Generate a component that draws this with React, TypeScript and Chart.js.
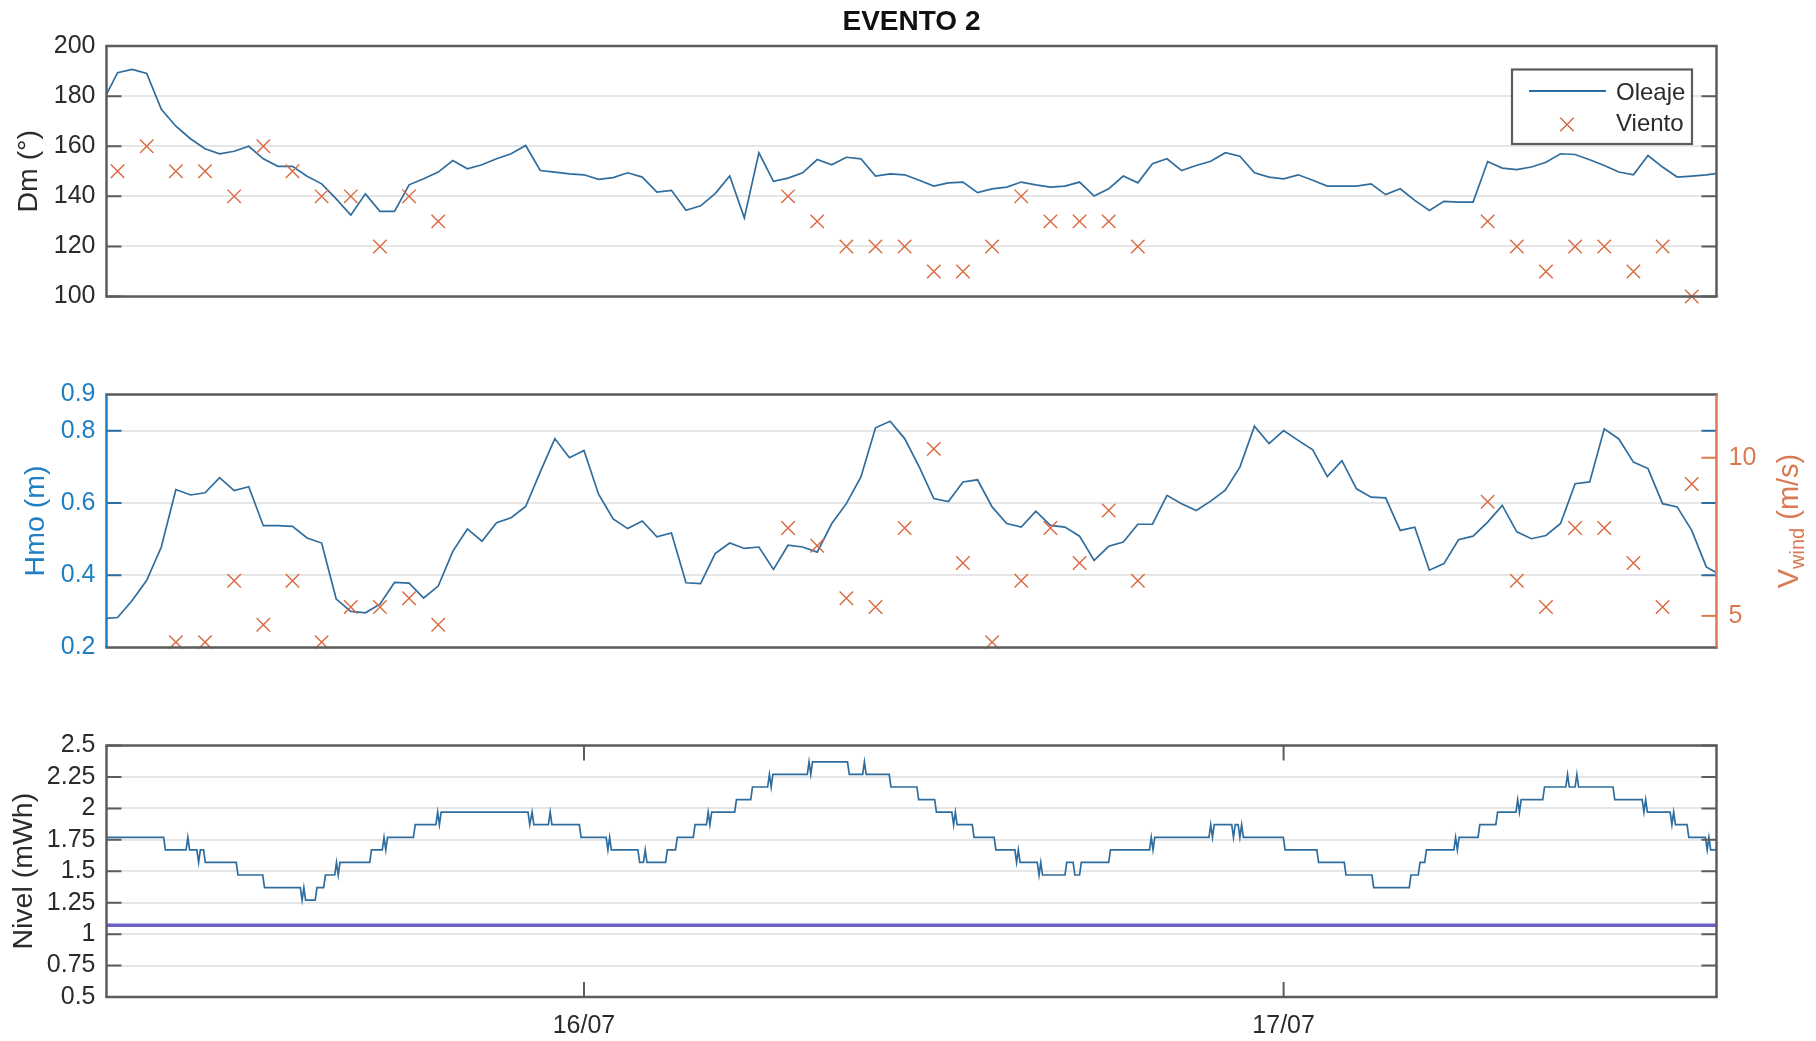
import React, { useEffect, useRef } from "react";
import { Chart, registerables } from "chart.js";

Chart.register(...registerables);

// ---------------- DATA (hours counted from 15/07 00:00) ----------------
const waveHours = [
  7.5, 8, 8.5, 9, 9.5, 10, 10.5, 11, 11.5, 12,
  12.5, 13, 13.5, 14, 14.5, 15, 15.5, 16, 16.5, 17,
  17.5, 18, 18.5, 19, 19.5, 20, 20.5, 21, 21.5, 22,
  22.5, 23, 23.5, 24, 24.5, 25, 25.5, 26, 26.5, 27,
  27.5, 28, 28.5, 29, 29.5, 30, 30.5, 31, 31.5, 32,
  32.5, 33, 33.5, 34, 34.5, 35, 35.5, 36, 36.5, 37,
  37.5, 38, 38.5, 39, 39.5, 40, 40.5, 41, 41.5, 42,
  42.5, 43, 43.5, 44, 44.5, 45, 45.5, 46, 46.5, 47,
  47.5, 48, 48.5, 49, 49.5, 50, 50.5, 51, 51.5, 52,
  52.5, 53, 53.5, 54, 54.5, 55, 55.5, 56, 56.5, 57,
  57.5, 58, 58.5, 59, 59.5, 60, 60.5, 61, 61.5, 62,
  62.5, 63,
];

const waveDm = [
  178, 189.4, 190.7, 189.1, 174.8, 168, 163, 159, 157, 158,
  160, 155, 152, 152, 148, 145, 139, 132.5, 141, 134,
  134, 144.6, 147, 149.7, 154.3, 151, 152.6, 155, 157, 160.3,
  150.3, 149.7, 149, 148.6, 146.8, 147.5, 149.4, 147.7, 141.7, 142.4,
  134.4, 136.2, 141.1, 148.1, 131.4, 157.4, 146, 147.3, 149.4, 154.7,
  152.6, 155.6, 155, 148.1, 149, 148.6, 146.4, 144.1, 145.4, 145.7,
  141.5, 143, 143.7, 145.7, 144.6, 143.7, 144.1, 145.7, 140.1, 143,
  148.1, 145.4, 153, 155, 150.3, 152.3, 154, 157.4, 156, 149.4,
  147.7, 147, 148.6, 146.4, 144.1, 144.1, 144.1, 145, 140.7, 143,
  138.4, 134.4, 138, 137.7, 137.7, 153.9, 151.3, 150.7, 151.7, 153.6,
  157, 156.7, 154.6, 152.3, 149.7, 148.6, 156.3, 151.7, 147.7, 148.1,
  148.6, 149.4,
];

const waveHmo = [
  0.28, 0.283, 0.33, 0.386, 0.478, 0.637, 0.622, 0.628, 0.67, 0.634,
  0.645, 0.537, 0.537, 0.535, 0.503, 0.489, 0.334, 0.3, 0.296, 0.32,
  0.38, 0.378, 0.337, 0.37, 0.466, 0.528, 0.494, 0.545, 0.559, 0.59,
  0.686, 0.778, 0.725, 0.745, 0.624, 0.556, 0.529, 0.55, 0.506, 0.517,
  0.379, 0.377, 0.46, 0.489, 0.474, 0.478, 0.416, 0.483, 0.478, 0.464,
  0.543, 0.598, 0.672, 0.808, 0.826, 0.778, 0.7, 0.612, 0.604, 0.658,
  0.664, 0.589, 0.543, 0.533, 0.577, 0.538, 0.533, 0.508, 0.441, 0.48,
  0.492, 0.541, 0.541, 0.621, 0.598, 0.579, 0.605, 0.635, 0.699, 0.812,
  0.764, 0.8, 0.773, 0.747, 0.673, 0.717, 0.639, 0.616, 0.614, 0.524,
  0.533, 0.414, 0.432, 0.498, 0.508, 0.547, 0.593, 0.52, 0.501, 0.51,
  0.543, 0.653, 0.658, 0.805, 0.777, 0.713, 0.695, 0.598, 0.589, 0.524,
  0.423, 0.4,
];

const windHours = [
  8, 9, 10, 11, 12, 13, 14, 15, 16, 17, 18, 19,
  31, 32, 33, 34, 35, 36, 37, 38, 39, 40, 41, 42, 43,
  55, 56, 57, 58, 59, 60, 61, 62,
];
const windDir = [
  150, 160, 150, 150, 140, 160, 150, 140, 140, 120, 140, 130,
  140, 130, 120, 120, 120, 110, 110, 120, 140, 130, 130, 130, 120,
  130, 120, 110, 120, 120, 110, 120, 100,
];
const windSpeed = [
  null, null, 4.17, 4.17, 6.11, 4.72, 6.11, 4.17, 5.28, 5.28, 5.56, 4.72,
  7.78, 7.22, 5.56, 5.28, 7.78, 10.28, 6.67, 4.17, 6.11, 7.78, 6.67, 8.33, 6.11,
  8.61, 6.11, 5.28, 7.78, 7.78, 6.67, 5.28, 9.17,
];

const nivelHours = [
  7.5, 9.58, 9.64, 10.35, 10.41, 10.47, 10.72, 10.78, 10.84, 10.95,
  11.01, 12.07, 12.13, 12.98, 13.04, 14.27, 14.33, 14.39, 14.45, 14.78,
  14.84, 15.07, 15.13, 15.45, 15.51, 15.57, 15.63, 16.65, 16.71, 17.08,
  17.14, 17.2, 17.26, 18.15, 18.21, 18.92, 18.98, 19.04, 19.1, 22.08,
  22.14, 22.22, 22.28, 22.78, 22.84, 22.9, 23.84, 23.9, 24.76, 24.82,
  24.88, 24.94, 25.85, 25.91, 26.04, 26.1, 26.16, 26.8, 26.86, 27.14,
  27.2, 27.75, 27.81, 28.2, 28.26, 28.32, 28.38, 29.17, 29.23, 29.72,
  29.78, 30.3, 30.36, 30.42, 30.48, 31.66, 31.72, 31.78, 31.84, 33.04,
  33.1, 33.56, 33.62, 33.68, 34.47, 34.53, 35.42, 35.48, 36.03, 36.09,
  36.62, 36.68, 36.74, 36.8, 37.32, 37.38, 38.07, 38.13, 38.78, 38.84,
  38.9, 38.96, 39.55, 39.61, 39.67, 39.73, 40.5, 40.56, 40.78, 40.84,
  41.0, 41.06, 42.0, 42.06, 43.4, 43.46, 43.52, 43.58, 45.44, 45.5,
  45.56, 45.62, 46.22, 46.28, 46.34, 46.44, 46.5, 46.56, 46.62, 47.99,
  48.05, 49.14, 49.2, 50.08, 50.14, 51.03, 51.09, 52.31, 52.37, 52.62,
  52.68, 52.84, 52.9, 53.84, 53.9, 53.96, 54.02, 54.67, 54.73, 55.28,
  55.34, 55.97, 56.03, 56.09, 56.15, 56.89, 56.95, 57.68, 57.74, 57.8,
  58.0, 58.06, 58.12, 59.3, 59.36, 60.3, 60.36, 60.42, 60.48, 61.26,
  61.32, 61.38, 61.44, 61.84, 61.9, 62.47, 62.53, 62.59, 62.65, 63.0,
];
const nivelLevels = [
  1.77, 1.77, 1.67, 1.67, 1.77, 1.67, 1.67, 1.57, 1.67, 1.67,
  1.57, 1.57, 1.47, 1.47, 1.37, 1.37, 1.27, 1.37, 1.27, 1.27,
  1.37, 1.37, 1.47, 1.47, 1.57, 1.47, 1.57, 1.57, 1.67, 1.67,
  1.77, 1.67, 1.77, 1.77, 1.87, 1.87, 1.97, 1.87, 1.97, 1.97,
  1.87, 1.97, 1.87, 1.87, 1.97, 1.87, 1.87, 1.77, 1.77, 1.67,
  1.77, 1.67, 1.67, 1.57, 1.57, 1.67, 1.57, 1.57, 1.67, 1.67,
  1.77, 1.77, 1.87, 1.87, 1.97, 1.87, 1.97, 1.97, 2.07, 2.07,
  2.17, 2.17, 2.27, 2.17, 2.27, 2.27, 2.37, 2.27, 2.37, 2.37,
  2.27, 2.27, 2.37, 2.27, 2.27, 2.17, 2.17, 2.07, 2.07, 1.97,
  1.97, 1.87, 1.97, 1.87, 1.87, 1.77, 1.77, 1.67, 1.67, 1.57,
  1.67, 1.57, 1.57, 1.47, 1.57, 1.47, 1.47, 1.57, 1.57, 1.47,
  1.47, 1.57, 1.57, 1.67, 1.67, 1.77, 1.67, 1.77, 1.77, 1.87,
  1.77, 1.87, 1.87, 1.77, 1.87, 1.87, 1.77, 1.87, 1.77, 1.77,
  1.67, 1.67, 1.57, 1.57, 1.47, 1.47, 1.37, 1.37, 1.47, 1.47,
  1.57, 1.57, 1.67, 1.67, 1.77, 1.67, 1.77, 1.77, 1.87, 1.87,
  1.97, 1.97, 2.07, 1.97, 2.07, 2.07, 2.17, 2.17, 2.27, 2.17,
  2.17, 2.27, 2.17, 2.17, 2.07, 2.07, 1.97, 2.07, 1.97, 1.97,
  1.87, 1.97, 1.87, 1.87, 1.77, 1.77, 1.67, 1.77, 1.67, 1.67,
];
const nivelUmbral = 1.07;

const dmTicks = [100, 120, 140, 160, 180, 200];
const dmTickLabels = ["100", "120", "140", "160", "180", "200"];
const hmoTicks = [0.2, 0.4, 0.6, 0.8, 0.9];
const hmoTickLabels = ["0.2", "0.4", "0.6", "0.8", "0.9"];
const vwindTicks = [5, 10];
const vwindTickLabels = ["5", "10"];
const nivelTicks = [0.5, 0.75, 1, 1.25, 1.5, 1.75, 2, 2.25, 2.5];
const nivelTickLabels = ["0.5", "0.75", "1", "1.25", "1.5", "1.75", "2", "2.25", "2.5"];
const dateTicks = [24, 48];
const dateLabels = ["16/07", "17/07"];

const titleText = "EVENTO 2";
const seriesNames = ["Oleaje", "Viento"];
const vwindTitle = ["V", "wind", " (m/s)"];

// ---------------- STYLE / LAYOUT ----------------
const X_MIN = 7.62;
const X_MAX = 62.85;
const W = 1816;
const PLOT_LEFT = 106.5;
const PLOT_RIGHT = 1716.5;
const FONT = '"Liberation Sans", Arial, Helvetica, sans-serif';
const TEXT = "#2b2b2b";
const AXIS = "#5c5c5c";
const GRID = "#e6e6e6";
const BLUE = "#1f7fc4";
const BLUE_TICK = "#2f6b9c";
const LINE = "#2f6d9e";
const MARK = "#d9683f";
const ORANGE = "#d97a52";
const PURPLE = "#6a5fc4";
const TICK_LEN = 15;

function fixedTicks(values: number[]) {
  return (scale: any) => {
    scale.ticks = values.map((v) => ({ value: v }));
  };
}

function yLeft(min: number, max: number, ticks: number[], labels: string[], title: string, color: string, titleColor: string, titlePad: number) {
  return {
    type: "linear",
    position: "left",
    min,
    max,
    afterBuildTicks: fixedTicks(ticks),
    afterFit: (s: any) => {
      s.width = PLOT_LEFT;
    },
    grid: { color: GRID, lineWidth: 2, drawTicks: false },
    border: { display: false },
    ticks: {
      autoSkip: false,
      padding: 11,
      color,
      font: { family: FONT, size: 25 },
      callback: (_v: any, i: number) => labels[i],
    },
    title: {
      display: true,
      text: title,
      color: titleColor,
      font: { family: FONT, size: 28.5 },
      padding: { top: titlePad, bottom: 0 },
    },
  };
}

function hiddenX() {
  return { type: "linear", min: X_MIN, max: X_MAX, display: false };
}

type TickSpec = { scale: string; values: number[]; sides: string[]; color: string };

function framePlugin(id: string, sides: { top: string; right: string; bottom: string; left: string }, ticks: TickSpec[]) {
  return {
    id,
    afterDatasetsDraw(chart: any) {
      const { ctx, chartArea: a } = chart;
      ctx.save();
      ctx.lineCap = "butt";
      for (const t of ticks) {
        const sc = chart.scales[t.scale];
        ctx.strokeStyle = t.color;
        ctx.lineWidth = 2;
        for (const v of t.values) {
          const p = sc.getPixelForValue(v);
          ctx.beginPath();
          if (sc.isHorizontal()) {
            if (t.sides.includes("bottom")) {
              ctx.moveTo(p, a.bottom);
              ctx.lineTo(p, a.bottom - TICK_LEN);
            }
            if (t.sides.includes("top")) {
              ctx.moveTo(p, a.top);
              ctx.lineTo(p, a.top + TICK_LEN);
            }
          } else {
            if (t.sides.includes("left")) {
              ctx.moveTo(a.left, p);
              ctx.lineTo(a.left + TICK_LEN, p);
            }
            if (t.sides.includes("right")) {
              ctx.moveTo(a.right, p);
              ctx.lineTo(a.right - TICK_LEN, p);
            }
          }
          ctx.stroke();
        }
      }
      const lw = 2.5;
      ctx.lineWidth = lw;
      const seg = (c: string, x1: number, y1: number, x2: number, y2: number) => {
        ctx.strokeStyle = c;
        ctx.beginPath();
        ctx.moveTo(x1, y1);
        ctx.lineTo(x2, y2);
        ctx.stroke();
      };
      seg(sides.top, a.left - lw / 2, a.top, a.right + lw / 2, a.top);
      seg(sides.bottom, a.left - lw / 2, a.bottom, a.right + lw / 2, a.bottom);
      seg(sides.left, a.left, a.top, a.left, a.bottom);
      seg(sides.right, a.right, a.top, a.right, a.bottom);
      ctx.restore();
    },
  };
}

const legendPlugin = {
  id: "boxLegend",
  afterDraw(chart: any) {
    const ctx = chart.ctx;
    const ds = chart.data.datasets;
    const bx = 1512, by = 69.5, bw = 180, bh = 74.5;
    ctx.save();
    ctx.fillStyle = "#ffffff";
    ctx.fillRect(bx, by, bw, bh);
    ctx.strokeStyle = AXIS;
    ctx.lineWidth = 2.2;
    ctx.strokeRect(bx, by, bw, bh);
    ctx.strokeStyle = ds[0].borderColor;
    ctx.lineWidth = 1.8;
    ctx.beginPath();
    ctx.moveTo(1529, 91);
    ctx.lineTo(1606, 91);
    ctx.stroke();
    ctx.strokeStyle = ds[1].borderColor;
    ctx.lineWidth = 1.4;
    const cx = 1567, cy = 124.5, r = 6.7;
    ctx.beginPath();
    ctx.moveTo(cx - r, cy - r);
    ctx.lineTo(cx + r, cy + r);
    ctx.moveTo(cx - r, cy + r);
    ctx.lineTo(cx + r, cy - r);
    ctx.stroke();
    ctx.fillStyle = TEXT;
    ctx.font = `24px ${FONT}`;
    ctx.textAlign = "left";
    ctx.textBaseline = "middle";
    ctx.fillText(ds[0].label, 1616, 93);
    ctx.fillText(ds[1].label, 1616, 124);
    ctx.restore();
  },
};

const rightTitlePlugin = {
  id: "rightTitle",
  afterDraw(chart: any) {
    const { ctx, chartArea: a } = chart;
    const big = `29px ${FONT}`;
    const small = `20px ${FONT}`;
    ctx.save();
    ctx.font = big;
    const w1 = ctx.measureText(vwindTitle[0]).width;
    const w3 = ctx.measureText(vwindTitle[2]).width;
    ctx.font = small;
    const w2 = ctx.measureText(vwindTitle[1]).width;
    const total = w1 + w2 + w3;
    ctx.translate(1788, (a.top + a.bottom) / 2);
    ctx.rotate(-Math.PI / 2);
    ctx.fillStyle = ORANGE;
    ctx.textAlign = "left";
    ctx.textBaseline = "alphabetic";
    let x = -total / 2;
    ctx.font = big;
    ctx.fillText(vwindTitle[0], x, 10);
    x += w1;
    ctx.font = small;
    ctx.fillText(vwindTitle[1], x, 16);
    x += w2;
    ctx.font = big;
    ctx.fillText(vwindTitle[2], x, 10);
    ctx.restore();
  },
};

function windDataset(values: (number | null)[], axis: string) {
  return {
    type: "scatter",
    label: seriesNames[1],
    data: windHours.map((h, i) => ({ x: h, y: values[i] })),
    pointStyle: "crossRot",
    pointRadius: 9.5,
    borderColor: MARK,
    backgroundColor: MARK,
    borderWidth: 1.4,
    clip: false,
    yAxisID: axis,
    order: 0,
  };
}

function waveDataset(values: number[]) {
  return {
    type: "line",
    label: seriesNames[0],
    data: waveHours.map((h, i) => ({ x: h, y: values[i] })),
    borderColor: LINE,
    borderWidth: 1.7,
    pointRadius: 0,
    tension: 0,
    fill: false,
    yAxisID: "y",
    order: 1,
  };
}

function config1(): any {
  return {
    type: "line",
    data: { datasets: [waveDataset(waveDm), windDataset(windDir, "y")] },
    options: {
      responsive: false,
      animation: false,
      events: [],
      layout: { padding: { top: 0, bottom: 33.5, left: 0, right: W - PLOT_RIGHT } },
      scales: {
        x: hiddenX(),
        y: yLeft(100, 200, dmTicks, dmTickLabels, "Dm (°)", TEXT, TEXT, 12),
      },
      plugins: {
        legend: { display: false },
        tooltip: { enabled: false },
        title: {
          display: true,
          text: titleText,
          fullSize: false,
          color: "#111",
          font: { family: FONT, size: 28, weight: "bold" },
          padding: { top: 5, bottom: 7.5 },
        },
      },
    },
    plugins: [
      framePlugin("frame1", { top: AXIS, right: AXIS, bottom: AXIS, left: AXIS }, [
        { scale: "y", values: dmTicks, sides: ["left", "right"], color: AXIS },
      ]),
      legendPlugin,
    ],
  };
}

function config2(): any {
  return {
    type: "line",
    data: { datasets: [waveDataset(waveHmo), windDataset(windSpeed, "y1")] },
    options: {
      responsive: false,
      animation: false,
      events: [],
      layout: { padding: { top: 34.5, bottom: 32.5, left: 0, right: 0 } },
      scales: {
        x: hiddenX(),
        y: yLeft(0.2, 0.9, hmoTicks, hmoTickLabels, "Hmo (m)", BLUE, BLUE, 19),
        y1: {
          type: "linear",
          position: "right",
          min: 4,
          max: 12,
          afterBuildTicks: fixedTicks(vwindTicks),
          afterFit: (s: any) => {
            s.width = W - PLOT_RIGHT;
          },
          grid: { display: false, drawTicks: false },
          border: { display: false },
          ticks: {
            autoSkip: false,
            padding: 12,
            color: ORANGE,
            font: { family: FONT, size: 25 },
            callback: (_v: any, i: number) => vwindTickLabels[i],
          },
          title: { display: false },
        },
      },
      plugins: { legend: { display: false }, tooltip: { enabled: false } },
    },
    plugins: [
      framePlugin("frame2", { top: AXIS, right: ORANGE, bottom: AXIS, left: BLUE }, [
        { scale: "y", values: [0.4, 0.6, 0.8], sides: ["left", "right"], color: BLUE_TICK },
        { scale: "y1", values: vwindTicks, sides: ["right"], color: ORANGE },
      ]),
      rightTitlePlugin,
    ],
  };
}

function config3(): any {
  return {
    type: "line",
    data: {
      datasets: [
        {
          type: "line",
          label: "Nivel",
          data: nivelHours.map((h, i) => ({ x: h, y: nivelLevels[i] })),
          borderColor: LINE,
          borderWidth: 1.7,
          pointRadius: 0,
          tension: 0,
          fill: false,
          order: 0,
        },
        {
          type: "line",
          label: "Umbral",
          data: [
            { x: X_MIN, y: nivelUmbral },
            { x: X_MAX, y: nivelUmbral },
          ],
          borderColor: PURPLE,
          borderWidth: 3.5,
          pointRadius: 0,
          fill: false,
          order: 1,
        },
      ],
    },
    options: {
      responsive: false,
      animation: false,
      events: [],
      layout: { padding: { top: 45.5, bottom: 0, left: 0, right: W - PLOT_RIGHT } },
      scales: {
        x: {
          type: "linear",
          min: X_MIN,
          max: X_MAX,
          afterBuildTicks: fixedTicks(dateTicks),
          afterFit: (s: any) => {
            s.height = 44;
          },
          grid: { display: false, drawTicks: false },
          border: { display: false },
          ticks: {
            autoSkip: false,
            maxRotation: 0,
            padding: 14,
            color: TEXT,
            font: { family: FONT, size: 25 },
            callback: (_v: any, i: number) => dateLabels[i],
          },
        },
        y: yLeft(0.5, 2.5, nivelTicks, nivelTickLabels, "Nivel (mWh)", TEXT, TEXT, 7),
      },
      plugins: { legend: { display: false }, tooltip: { enabled: false } },
    },
    plugins: [
      framePlugin("frame3", { top: AXIS, right: AXIS, bottom: AXIS, left: AXIS }, [
        { scale: "y", values: nivelTicks, sides: ["left", "right"], color: AXIS },
        { scale: "x", values: dateTicks, sides: ["top", "bottom"], color: AXIS },
      ]),
    ],
  };
}

export default function App() {
  const r1 = useRef<HTMLCanvasElement | null>(null);
  const r2 = useRef<HTMLCanvasElement | null>(null);
  const r3 = useRef<HTMLCanvasElement | null>(null);

  useEffect(() => {
    const c1 = new Chart(r1.current as HTMLCanvasElement, config1());
    const c2 = new Chart(r2.current as HTMLCanvasElement, config2());
    const c3 = new Chart(r3.current as HTMLCanvasElement, config3());
    return () => {
      c1.destroy();
      c2.destroy();
      c3.destroy();
    };
  }, []);

  const cs = (top: number, h: number): React.CSSProperties => ({
    position: "absolute",
    left: 0,
    top,
    width: W,
    height: h,
    display: "block",
  });

  return (
    <div
      style={{
        position: "fixed",
        left: 0,
        top: 0,
        width: W,
        height: 1041,
        background: "#ffffff",
        overflow: "hidden",
      }}
    >
      <canvas ref={r1} width={W} height={330} style={cs(0, 330)} />
      <canvas ref={r2} width={W} height={320} style={cs(360, 320)} />
      <canvas ref={r3} width={W} height={341} style={cs(700, 341)} />
    </div>
  );
}
